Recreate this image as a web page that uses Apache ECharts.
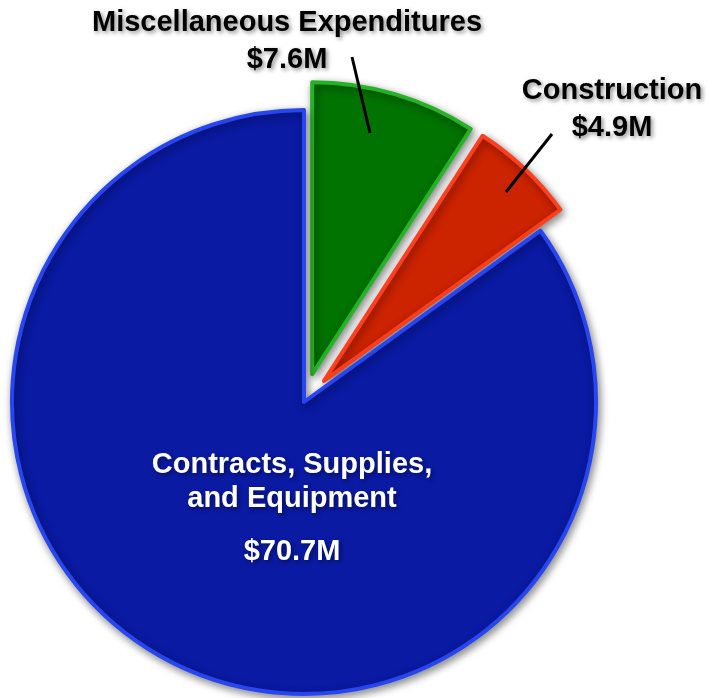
<!DOCTYPE html>
<html>
<head>
<meta charset="utf-8">
<script src="https://cdn.jsdelivr.net/npm/echarts@6/dist/echarts.min.js"></script>
<style>
  html, body { margin: 0; padding: 0; background: #ffffff; }
  #chart { width: 708px; height: 698px; }
</style>
</head>
<body>
<div id="chart"></div>
<script>
// Spending categories (millions of dollars), drawn clockwise from 12 o'clock
const categories = ['Miscellaneous Expenditures', 'Construction', 'Contracts, Supplies,\nand Equipment'];
const values = [7.6, 4.9, 70.7];
const fills = ['#007300', '#cc2300', '#0a1aa3'];
const edges = ['#25b325', '#ff4020', '#2846f0'];
const pulledOut = [true, true, false];

const FONT = '"Liberation Sans", Arial, sans-serif';
const money = v => '$' + v + 'M';

const textShadow = {
  textShadowColor: 'rgba(0,0,0,0.45)',
  textShadowBlur: 4,
  textShadowOffsetX: 2,
  textShadowOffsetY: 2
};

// Callouts for the two pulled-out wedges: label block centre and leader line
const callouts = [
  { index: 0, x: 287, y: 41, line: [352, 57, 370, 133] },
  { index: 1, x: 612, y: 109, line: [552, 134, 506, 192] }
];

const chart = echarts.init(document.getElementById('chart'), null, { renderer: 'canvas' });

const data = categories.map((name, i) => ({
  name: name,
  value: values[i],
  selected: pulledOut[i],
  itemStyle: {
    color: fills[i],
    borderColor: edges[i],
    borderWidth: 4
  },
  label: { show: i === 2 }
}));

const graphics = [];
callouts.forEach(c => {
  graphics.push({
    type: 'line',
    silent: true,
    z: 10,
    shape: { x1: c.line[0], y1: c.line[1], x2: c.line[2], y2: c.line[3] },
    style: { stroke: '#000000', lineWidth: 3 }
  });
  graphics.push({
    type: 'text',
    silent: true,
    z: 10,
    x: c.x,
    y: c.y,
    style: Object.assign({
      text: categories[c.index] + '\n' + money(values[c.index]),
      font: 'bold 29px ' + FONT,
      fill: '#000000',
      lineHeight: 37,
      align: 'center',
      verticalAlign: 'middle'
    }, textShadow)
  });
});

chart.setOption({
  animation: false,
  graphic: graphics,
  series: [{
    type: 'pie',
    center: [304, 402],
    radius: 292,
    startAngle: 90,
    clockwise: true,
    selectedMode: 'multiple',
    selectedOffset: 29,
    silent: true,
    emphasis: { disabled: true },
    avoidLabelOverlap: false,
    itemStyle: {
      shadowColor: 'rgba(0,0,0,0.45)',
      shadowBlur: 8,
      shadowOffsetX: 2,
      shadowOffsetY: 3
    },
    label: {
      show: true,
      position: 'inside',
      formatter: p => '{n|' + p.name.split('\n').join('}\n{n|') + '}\n{v|' + money(p.value) + '}',
      rich: {
        n: Object.assign({ color: '#fff', fontSize: 29, fontWeight: 'bold', fontFamily: FONT, lineHeight: 34 }, textShadow),
        v: Object.assign({ color: '#fff', fontSize: 29, fontWeight: 'bold', fontFamily: FONT, lineHeight: 72 }, textShadow)
      }
    },
    labelLine: { show: false },
    labelLayout: function (params) {
      if (params.dataIndex === 2) {
        return { x: 292, y: 518, align: 'center', verticalAlign: 'middle' };
      }
    },
    data: data
  }]
});
</script>
</body>
</html>
